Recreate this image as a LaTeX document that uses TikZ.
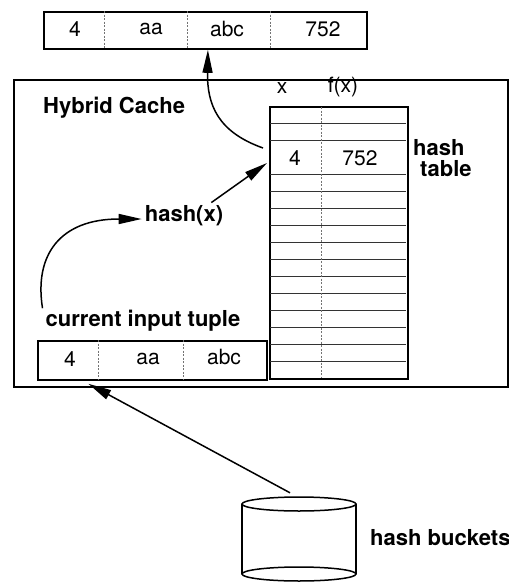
\documentclass[tikz,border=0pt]{standalone}
\usepackage{fontspec}
\setmainfont{TeX Gyre Heros}
\usetikzlibrary{arrows.meta}
\begin{document}
\begin{tikzpicture}[x=1pt,y=-1pt,
  box/.style={draw, line width=1.8pt, inner sep=0pt, anchor=north west},
  cellsep/.style={draw=black!55, dash pattern=on 2pt off 1.5pt, line width=0.5pt},
  rowline/.style={draw=black!80, line width=0.9pt},
  lbl/.style={font=\fontsize{22}{21}\selectfont\bfseries, inner sep=0pt},
  val/.style={font=\fontsize{21}{24}\selectfont, inner sep=0pt},
  flow/.style={line width=1.5pt, -{Triangle[length=23pt,width=10pt]}},
]
\useasboundingbox (0,0) rectangle (509,582);

% cache frame
\node[box, minimum width=494pt, minimum height=307pt] (cache) at (13,79) {};
\node[lbl, anchor=base west] (cachelbl) at (43,113) {Hybrid Cache};

% output tuple
\node[box, minimum width=323pt, minimum height=37pt] (outtuple) at (43,11) {};
\foreach \x in {104,187,270} \draw[cellsep] (\x,11) -- (\x,48);
\node[val] (o1) at (75,29) {4};
\node[val] (o2) at (151,29) {aa};
\node[val] (o3) at (227,29) {abc};
\node[val] (o4) at (323,29) {752};

% hash table
\node[box, minimum width=138pt, minimum height=272pt] (table) at (269,106) {};
\foreach \y in {123,140} \draw[rowline] (270,\y) -- (406,\y);
\foreach \k in {0,...,11} \draw[rowline] (270,174+17*\k) -- (406,174+17*\k);
\draw[cellsep] (321,107) -- (321,377);
\node[val] (colx) at (282,88) {x};
\node[val] (colf) at (343,87) {f(x)};
\node[val] (key) at (295,158) {4};
\node[val] (fval) at (360,158) {752};
\node[lbl, align=left, anchor=north west] (tablelbl) at (413,139) {hash\\\hspace*{7pt}table};

% hash function
\node[lbl] (hash) at (184,216) {hash(x)};

% current input tuple
\node[lbl] (inlbl) at (143,321) {current input tuple};
\node[box, minimum width=229pt, minimum height=39pt] (intuple) at (37,340) {};
\foreach \x in {98,183} \draw[cellsep] (\x,340) -- (\x,379);
\node[val] (i1) at (70,359) {4};
\node[val] (i2) at (148,359) {aa};
\node[val] (i3) at (224,357) {abc};

% hash buckets (cylinder)
\node[inner sep=0pt, minimum width=114pt, minimum height=84pt] (buckets) at (299,539) {};
\draw[line width=1.5pt] (242,504) -- (242,574) (356,504) -- (356,574);
\draw[line width=1.5pt] (299,504) ellipse [x radius=57pt, y radius=7pt];
\draw[line width=1.5pt] (299,574) ellipse [x radius=57pt, y radius=7pt];
\node[lbl, anchor=west] (bucketlbl) at (370,538) {hash buckets};

% connectors
\coordinate (hit) at ([xshift=-6pt,yshift=10pt]key.west -| table.west);
\coordinate (probe) at ([xshift=-2pt,yshift=-5pt]key.west -| table.west);
\draw[flow] (hit) .. controls (218,132) and (207,105) .. ([xshift=2.5pt]outtuple.south);
\draw[flow] ([xshift=-12pt,yshift=3pt]hash.north east) -- (probe);
\draw[flow] ([xshift=-3pt,yshift=2pt]inlbl.north west) .. controls (34,255) and (60,219) .. ([xshift=-3pt,yshift=-3pt]hash.west);
\draw[flow] ([xshift=-9pt,yshift=4pt]buckets.north) -- ([xshift=-64pt,yshift=-3pt]intuple.south);
\end{tikzpicture}
\end{document}
